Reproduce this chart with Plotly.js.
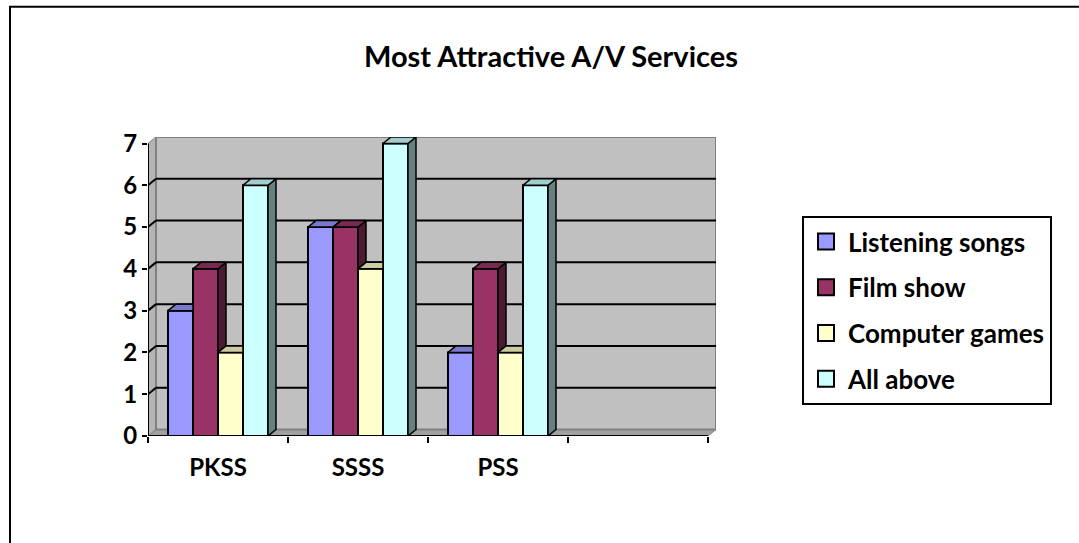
<!DOCTYPE html>
<html>
<head>
<meta charset="utf-8">
<script src="https://cdn.plot.ly/plotly-3.0.1.min.js"></script>
<style>
  html, body { margin: 0; padding: 0; background: #ffffff; }
  #chart { width: 1079px; height: 543px; }
</style>
</head>
<body>
<div id="chart"></div>
<script>
// ---- data ----
const categories = ['PKSS', 'SSSS', 'PSS'];
const seriesNames = ['Listening songs', 'Film show', 'Computer games', 'All above'];
const listeningSongs = [3, 5, 2];
const filmShow = [4, 5, 4];
const computerGames = [2, 4, 2];
const allAbove = [6, 7, 6];
const yTickValues = [0, 1, 2, 3, 4, 5, 6, 7];

// ---- styling ----
const seriesColors = ['#9999ff', '#993366', '#ffffcc', '#ccffff'];
const FONT = 'Lato, "DejaVu Sans", sans-serif';

// pseudo-3D geometry (pixel depth converted to axis units)
const W = 1079, H = 543;
const M = { l: 148, r: 363, t: 137, b: 107 };
const plotW = W - M.l - M.r;          // 568
const plotH = H - M.t - M.b;          // 299
const DEPTH_X_PX = 8, DEPTH_Y_PX = 6.5;
const nSlots = 4;                      // three groups plus one empty slot
const pxPerCat = (plotW - DEPTH_X_PX) / nSlots;
const dx = DEPTH_X_PX / pxPerCat;
const yMaxFront = 7;
const yTop = yMaxFront * plotH / (plotH - DEPTH_Y_PX);
const dy = yTop - yMaxFront;
const xRange = [-0.5, nSlots - 0.5 + dx];
const yRange = [0, yTop];

const BARGAP = 40 / 140;
const allSeries = [listeningSongs, filmShow, computerGames, allAbove];
const nS = allSeries.length;
const barW = (1 - BARGAP) / nS;
const xIdx = categories.map((_, i) => i);

function shade(hex, f) {
  const n = parseInt(hex.slice(1), 16);
  const r = Math.round(((n >> 16) & 255) * f);
  const g = Math.round(((n >> 8) & 255) * f);
  const b = Math.round((n & 255) * f);
  return 'rgb(' + r + ',' + g + ',' + b + ')';
}

const traces = [];

// front faces of the columns
allSeries.forEach((vals, j) => {
  traces.push({
    type: 'bar', x: xIdx, y: vals, name: seriesNames[j],
    marker: { color: seriesColors[j], line: { color: '#000000', width: 2 } },
    showlegend: false, hoverinfo: 'skip'
  });
});

// side and top faces, built from the same values
allSeries.forEach((vals, j) => {
  const sx = [], sy = [], tx = [], ty = [];
  vals.forEach((v, i) => {
    const next = j < nS - 1 ? allSeries[j + 1][i] : 0;
    const xl = i - (nS / 2) * barW + j * barW;
    const xr = xl + barW;
    if (j === nS - 1 || v > next) {
      sx.push(xr, xr + dx, xr + dx, xr, xr, null);
      sy.push(next, next + dy, v + dy, v, next, null);
    }
    const rightTop = (j < nS - 1 && next > v) ? xr : xr + dx;
    tx.push(xl, xl + dx, rightTop, xr, xl, null);
    ty.push(v, v + dy, v + dy, v, v, null);
  });
  traces.push({
    type: 'scatter', mode: 'lines', x: sx, y: sy, xaxis: 'x2', yaxis: 'y',
    fill: 'toself', fillcolor: shade(seriesColors[j], 0.5),
    line: { color: '#000000', width: 1.5 }, showlegend: false, hoverinfo: 'skip'
  });
  traces.push({
    type: 'scatter', mode: 'lines', x: tx, y: ty, xaxis: 'x2', yaxis: 'y',
    fill: 'toself', fillcolor: shade(seriesColors[j], 0.8),
    line: { color: '#000000', width: 1.5 }, showlegend: false, hoverinfo: 'skip'
  });
});

// legend entries
seriesNames.forEach((name, j) => {
  traces.push({
    type: 'scatter', mode: 'markers', x: [null], y: [null], name: name,
    legendgroup: 'g' + j,
    marker: { symbol: 'square', size: 16, color: seriesColors[j], line: { color: '#000000', width: 2 } },
    hoverinfo: 'skip'
  });
});

// walls, floor and gridlines
const shapes = [];
const x0 = -0.5, x1 = nSlots - 0.5;
shapes.push({
  type: 'path', xref: 'x', yref: 'y', layer: 'below',
  path: `M${x0},0 L${x1},0 L${x1 + dx},${dy} L${x0 + dx},${dy} Z`,
  fillcolor: '#a0a0a0', line: { color: '#808080', width: 1 }
});
shapes.push({
  type: 'path', xref: 'x', yref: 'y', layer: 'below',
  path: `M${x0},0 L${x0 + dx},${dy} L${x0 + dx},${yMaxFront + dy} L${x0},${yMaxFront} Z`,
  fillcolor: '#b4b4b4', line: { color: '#808080', width: 1 }
});
shapes.push({
  type: 'rect', xref: 'x', yref: 'y', layer: 'below',
  x0: x0 + dx, x1: x1 + dx, y0: dy, y1: yMaxFront + dy,
  fillcolor: '#c0c0c0', line: { color: '#808080', width: 2 }
});
yTickValues.filter(v => v > 0 && v < yMaxFront).forEach(v => {
  shapes.push({
    type: 'line', xref: 'x', yref: 'y', layer: 'below',
    x0: x0 + dx, x1: x1 + dx, y0: v + dy, y1: v + dy,
    line: { color: '#000000', width: 2 }
  });
  shapes.push({
    type: 'line', xref: 'x', yref: 'y', layer: 'below',
    x0: x0, x1: x0 + dx, y0: v, y1: v + dy,
    line: { color: '#000000', width: 2 }
  });
});
// front axis lines
shapes.push({
  type: 'line', xref: 'x', yref: 'y', layer: 'above',
  x0: x0, x1: x0, y0: 0, y1: yMaxFront, line: { color: '#000000', width: 2 }
});
shapes.push({
  type: 'line', xref: 'x', yref: 'y', layer: 'above',
  x0: x0, x1: x1, y0: 0, y1: 0, line: { color: '#000000', width: 2 }
});
// outer chart frame
const px2x = p => (p - M.l) / plotW;
const px2y = p => (H - M.b - p) / plotH;
shapes.push({
  type: 'rect', xref: 'paper', yref: 'paper', layer: 'above',
  x0: px2x(10), x1: px2x(1120), y0: px2y(580), y1: px2y(6.7),
  line: { color: '#000000', width: 2 }, fillcolor: 'rgba(0,0,0,0)'
});

const boldFont = (size) => ({ family: FONT, size: size, color: '#000000', weight: 'bold' });

const layout = {
  width: W, height: H,
  margin: M,
  paper_bgcolor: '#ffffff',
  plot_bgcolor: 'rgba(0,0,0,0)',
  barmode: 'group', bargap: BARGAP, bargroupgap: 0,
  title: {
    text: 'Most Attractive A/V Services',
    font: boldFont(29),
    xref: 'container', x: 551 / W, xanchor: 'center',
    yref: 'container', y: 1 - 57 / H, yanchor: 'middle'
  },
  xaxis: {
    range: xRange, tickmode: 'array', tickvals: xIdx, ticktext: categories,
    ticks: '', showgrid: false, zeroline: false, showline: false,
    tickfont: boldFont(24), ticklabelstandoff: 15, fixedrange: true
  },
  xaxis2: {
    overlaying: 'x', anchor: 'y', side: 'bottom', range: xRange,
    tickmode: 'array', tickvals: [-0.5, 0.5, 1.5, 2.5, 3.5],
    ticks: 'outside', ticklen: 6, tickwidth: 2, tickcolor: '#000000',
    showticklabels: false, showgrid: false, zeroline: false, showline: false
  },
  yaxis: {
    range: yRange, tickmode: 'array', tickvals: yTickValues,
    ticks: 'outside', ticklen: 5, tickwidth: 2, tickcolor: '#000000',
    showgrid: false, zeroline: false, showline: false,
    tickfont: boldFont(24), fixedrange: true
  },
  legend: {
    x: px2x(802), y: px2y(216), xanchor: 'left', yanchor: 'top',
    bordercolor: '#000000', borderwidth: 2, bgcolor: '#ffffff',
    font: boldFont(26), tracegroupgap: 9, itemwidth: 34,
    itemclick: false, itemdoubleclick: false
  },
  shapes: shapes,
  showlegend: true
};

Plotly.newPlot('chart', traces, layout, { displayModeBar: false, staticPlot: true });
</script>
</body>
</html>
